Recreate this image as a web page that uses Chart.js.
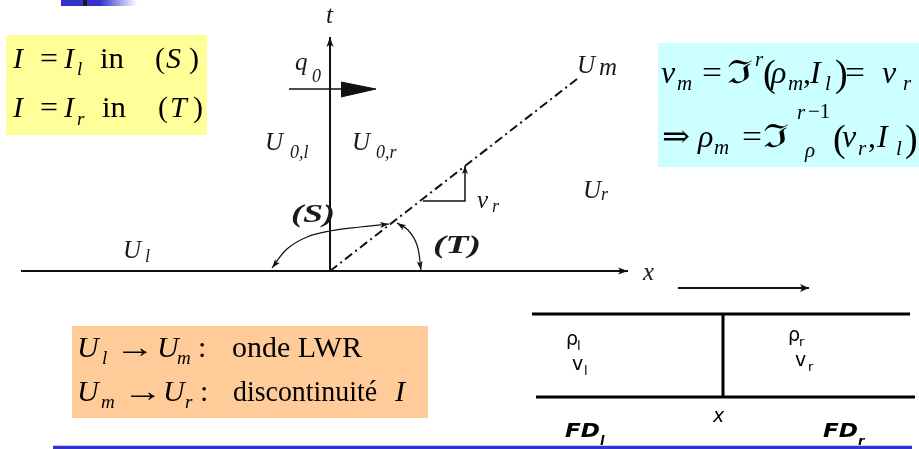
<!DOCTYPE html>
<html><head><meta charset="utf-8">
<script src="https://cdn.jsdelivr.net/npm/chart.js@4.4.1/dist/chart.umd.min.js"></script>
<style>html,body{margin:0;padding:0;background:#fff;overflow:hidden}canvas{display:block}</style>
</head><body>
<canvas id="c" width="919" height="449"></canvas>
<script>
// ---- geometry (data units = diagram units, y grows downward) ----
const yellowBox = [{x:6,y:35},{x:207,y:35},{x:207,y:135},{x:6,y:135}];
const yellowSeam = [{x:6,y:65.5},{x:207,y:65.5}];
const cyanBox = [{x:658,y:43},{x:919,y:43},{x:919,y:167},{x:658,y:167}];
const orangeBox = [{x:72,y:326},{x:428,y:326},{x:428,y:418},{x:72,y:418}];
const tAxis = [{x:330,y:271},{x:330,y:37}];
const xAxis = [{x:21,y:271},{x:628,y:271}];
const q0Line = [{x:289,y:89},{x:342,y:89}];
const q0Flag = [{x:341,y:82},{x:376,y:89},{x:341,y:97}];
const waveLine = [{x:330,y:271},{x:577,y:79}];
const vrTriangle = [{x:423,y:201},{x:465,y:201},{x:465,y:166}];
const arcS = [{x:272,y:268},{x:287,y:249},{x:307,y:237},{x:330,y:231},{x:360,y:227},{x:389,y:224}];
const arcT = [{x:397,y:223},{x:408,y:230},{x:417,y:245},{x:421,y:270}];
const dirArrow = [{x:678,y:288},{x:809,y:288}];
const roadTop = [{x:532,y:314},{x:910,y:314}];
const roadBottom = [{x:536,y:397},{x:915,y:397}];
const roadDivider = [{x:723,y:314},{x:723,y:397}];
const footerRule = [{x:53,y:447.5},{x:912,y:447.5}];
const headerBar = [61, 100, 137];   // solid start, fade start, fade end
const headerMark = [83, 87];

// ---- text runs: [text, font, x, baseline, optional width] ----
const yellowText = [
  ['I','Y',13,68],['=','R',40,68,18],['I','Y',64,68],['l','S',77,75],['in','R',100,68,24],
  ['(','R',155,68],['S','Y',166,68],[')','R',189,68],
  ['I','Y',13,117],['=','R',40,117,18],['I','Y',64,117],['r','S',77,125],['in','R',102,117,24],
  ['(','R',158,117],['T','Y',170,117],[')','R',193,117]
];
const cyanText = [
  ['v','Ci',661,83],['m','Cs',677,90],['=','Cr',702,83,20],['\u2111','Cr',727,83,26],['r','Cs',755,66],
  ['(','Cp',763,86],['\u03C1','Ci',771,83],['m','Cs',788,90],[',','Cr',803,83],['I','Ci',810,83],
  ['l','Cs',825,90],[')','Cp',835,86],['=','Cr',845,83,20],['v','Ci',882,83],['r','Cs',903,90],
  ['\u21D2','Cr',662,147,28],['\u03C1','Ci',698,147],['m','Cs',714,154],['=','Cr',742,147,20],
  ['\u2111','Cr',763,147,26],['r','Cs',797,119],['\u22121','Csr',808,118],['\u03C1','Cs',805,157],
  ['(','Cp',833,151],['v','Ci',842,147],['r','Cs',858,155],[',','Cr',868,147],['I','Ci',877,147],
  ['l','Cs',896,155],[')','Cp',905,151]
];
const orangeText = [
  ['U','Y',77,357],['l','S',102,364],['\u2192','R',115,357,40],['U','Y',157,357],['m','S',177,364],
  [':','R',198,357],['onde LWR','R',232,357,130],
  ['U','Y',77,401],['m','S',101,408],['\u2192','R',123,401,40],['U','Y',163,401],['r','S',185,408],
  [':','R',200,401],['discontinuit\u00E9','R',233,401,144],['I','Y',395,401]
];
const diagramText = [
  ['t','Gi',326,23],['q','Gi',295,70],['0','Gs',312,82],
  ['U','Gi',577,73],['m','Gi',599,75],
  ['U','Gi',265,150],['0,l','Gs',290,158],
  ['U','Gi',352,150],['0,r','Gs',376,158],
  ['v','Gi',477,208],['r','Gs',492,212],
  ['U','Gi',583,198],['r','Gs',601,200],
  ['(S)','Gb',291,222,44],['(T)','Gb',433,253,48],
  ['x','Gi',643,280],
  ['U','Gi',123,258],['l','Gs',145,262]
];
const roadText = [
  ['\u03C1','Ns',566,345],['l','Nss',577,350],
  ['v','Ns',572,370],['l','Nss',584,375],
  ['\u03C1','Ns',788,341],['r','Nss',799,346],
  ['v','Ns',795,366],['r','Nss',808,371],
  ['x','Ni',713,422],
  ['FD','Nb',565,437,35],['l','Nbs',600,445],
  ['FD','Nb',823,437,35],['r','Nbs',858,445]
];

const FONTS = {
  Y:'italic 30px "Liberation Serif"', R:'30px "Liberation Serif", "DejaVu Serif"', S:'italic 19px "Liberation Serif"',
  Ci:'italic 32px "Liberation Serif"', Cr:'32px "Liberation Serif", "DejaVu Serif"', Cs:'italic 21px "Liberation Serif"',
  Csr:'21px "Liberation Serif"', Cp:'38px "Liberation Serif"',
  Gi:'italic 25px "Liberation Serif"', Gs:'italic 18px "Liberation Serif"', Gb:'bold italic 26px "Liberation Serif"',
  Ns:'19px "DejaVu Sans"', Nss:'13px "DejaVu Sans"', Ni:'italic 19px "DejaVu Sans"',
  Nb:'bold italic 19px "DejaVu Sans"', Nbs:'bold italic 13px "DejaVu Sans"'
};

function seg(data, opts) {
  return Object.assign({data, showLine:true, pointRadius:0, borderColor:'#111', borderWidth:2, fill:false, tension:0}, opts || {});
}

const datasets = [
  seg(yellowBox, {fill:'shape', backgroundColor:'#FFFF99', borderWidth:0}),
  seg(yellowSeam, {borderColor:'#ffffff', borderWidth:1}),
  seg(cyanBox, {fill:'shape', backgroundColor:'#CCFFFF', borderWidth:0}),
  seg(orangeBox, {fill:'shape', backgroundColor:'#FFCC99', borderWidth:0}),
  seg(xAxis, {arrows:['end'], head:[10,3.5]}),
  seg(tAxis, {arrows:['end'], head:[10,3.5]}),
  seg(q0Line, {borderWidth:1.5}),
  seg(q0Flag, {fill:'shape', backgroundColor:'#111', borderWidth:1}),
  seg(waveLine, {borderDash:[9,4,2,4], borderWidth:2}),
  seg(vrTriangle, {borderWidth:1.5, arrows:['end'], head:[8,3]}),
  seg(arcS, {borderWidth:1.2, tension:0.4, arrows:['start','end'], head:[9,3]}),
  seg(arcT, {borderWidth:1.2, tension:0.4, arrows:['start','end'], head:[9,3]}),
  seg(dirArrow, {borderWidth:2, arrows:['end'], head:[9,4]}),
  seg(roadTop, {borderWidth:3, borderColor:'#000'}),
  seg(roadBottom, {borderWidth:3, borderColor:'#000'}),
  seg(roadDivider, {borderWidth:3, borderColor:'#000'}),
  seg(footerRule, {borderWidth:3.5, borderColor:'#3333CC'})
];

const decorPlugin = {
  id:'decor',
  beforeDatasetsDraw(chart) {
    const {ctx, scales:{x, y}} = chart;
    const x0 = x.getPixelForValue(headerBar[0]), x1 = x.getPixelForValue(headerBar[1]), x2 = x.getPixelForValue(headerBar[2]);
    const y0 = y.getPixelForValue(0), y1 = y.getPixelForValue(6);
    const g = ctx.createLinearGradient(x1, 0, x2, 0);
    g.addColorStop(0, '#3333CC'); g.addColorStop(1, 'rgba(51,51,204,0)');
    ctx.save();
    ctx.fillStyle = '#3333CC'; ctx.fillRect(x0, y0, x1 - x0, y1 - y0);
    ctx.fillStyle = g; ctx.fillRect(x1, y0, x2 - x1, y1 - y0);
    ctx.fillStyle = '#1a1a1a';
    const m0 = x.getPixelForValue(headerMark[0]), m1 = x.getPixelForValue(headerMark[1]);
    ctx.fillRect(m0, y0, m1 - m0, y1 - y0);
    ctx.restore();
  }
};

const arrowPlugin = {
  id:'arrows',
  afterDatasetsDraw(chart) {
    const ctx = chart.ctx;
    chart.data.datasets.forEach((ds, i) => {
      if (!ds.arrows) return;
      const pts = chart.getDatasetMeta(i).data;
      const n = pts.length;
      const [len, hw] = ds.head;
      const head = (a, b) => {
        const dx = b.x - a.x, dy = b.y - a.y, d = Math.hypot(dx, dy) || 1;
        const ux = dx / d, uy = dy / d;
        ctx.beginPath();
        ctx.moveTo(b.x, b.y);
        ctx.lineTo(b.x - ux*len - uy*hw, b.y - uy*len + ux*hw);
        ctx.lineTo(b.x - ux*len*0.75, b.y - uy*len*0.75);
        ctx.lineTo(b.x - ux*len + uy*hw, b.y - uy*len - ux*hw);
        ctx.closePath();
        ctx.fill();
      };
      ctx.save();
      ctx.fillStyle = ds.borderColor;
      if (ds.arrows.includes('end')) head(pts[n-2], pts[n-1]);
      if (ds.arrows.includes('start')) head(pts[1], pts[0]);
      ctx.restore();
    });
  }
};

const textPlugin = {
  id:'texts',
  afterDraw(chart) {
    const {ctx, scales:{x, y}} = chart;
    const groups = [[yellowText,'#000'],[cyanText,'#000'],[orangeText,'#000'],[diagramText,'#1a1a1a'],[roadText,'#000']];
    ctx.save();
    ctx.textBaseline = 'alphabetic';
    ctx.textAlign = 'left';
    groups.forEach(([runs, color]) => {
      ctx.fillStyle = color;
      runs.forEach(([t, f, vx, vy, w]) => {
        ctx.font = FONTS[f];
        const px = x.getPixelForValue(vx), py = y.getPixelForValue(vy);
        if (w) {
          const m = ctx.measureText(t).width || 1;
          ctx.save(); ctx.translate(px, py); ctx.scale(w / m, 1); ctx.fillText(t, 0, 0); ctx.restore();
        } else {
          ctx.fillText(t, px, py);
        }
      });
    });
    ctx.restore();
  }
};

new Chart(document.getElementById('c'), {
  type:'scatter',
  data:{datasets},
  options:{
    responsive:false, animation:false, devicePixelRatio:1,
    layout:{padding:0},
    scales:{
      x:{type:'linear', min:0, max:919, display:false},
      y:{type:'linear', min:0, max:449, reverse:true, display:false}
    },
    plugins:{legend:{display:false}, tooltip:{enabled:false}},
    elements:{line:{borderCapStyle:'butt'}}
  },
  plugins:[decorPlugin, arrowPlugin, textPlugin]
});
</script>
</body></html>
